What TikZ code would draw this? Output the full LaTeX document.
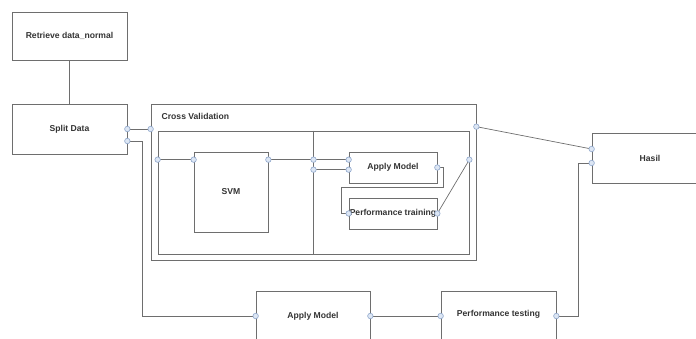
\documentclass[tikz,border=0pt]{standalone}
\usepackage{fontspec}
\setmainfont{Liberation Sans}
\usepackage{xcolor}
\usetikzlibrary{calc}
\definecolor{lineGray}{HTML}{6E6E6E}
\definecolor{portFill}{HTML}{DCE6F4}
\definecolor{portEdge}{HTML}{8EA6CB}

\begin{document}
\begin{tikzpicture}[
  x=1pt, y=-1pt,
  font=\fontsize{8.6}{10}\selectfont\bfseries,
  line width=0.7pt, draw=lineGray,
  blk/.style={draw=lineGray, rectangle, inner sep=0pt, align=center, text=black!80},
  wire/.style={draw=lineGray, line width=0.7pt},
  port/.style={circle, draw=portEdge, fill=portFill, line width=0.6pt, minimum size=5.5pt, inner sep=0pt}
]
\useasboundingbox (0,0) rectangle (696,338);

% Outer flow
\node[blk, minimum width=115, minimum height=48] (retr) at (69.5,36) {Retrieve data\_normal};
\node[blk, minimum width=115, minimum height=50] (split) at (69.5,129) {Split Data};
\node[blk, minimum width=116, minimum height=50] (hasil) at (650,158) {Hasil};
\node[blk, minimum width=114, minimum height=50] (applyb) at (313,316) {Apply Model};
\node[blk, minimum width=115, minimum height=50] (perfts) at (498.5,316) {};
\node[text=black!80] (perftstxt) at (498.5,314) {Performance testing};

% Cross validation
\node[blk, minimum width=325, minimum height=156] (cv) at (313.5,182) {};
\node[anchor=west, text=black!80] (cvtitle) at (158,116) {Cross Validation};
\node[blk, minimum width=311, minimum height=123] (cvin) at (313.5,192.5) {};
\draw[wire] (cvin.north) -- (cvin.south);
\node[blk, minimum width=74, minimum height=80] (svm) at (231,192) {SVM};
\node[blk, minimum width=88, minimum height=31] (apply) at (393,167.5) {Apply Model};
\node[blk, minimum width=88, minimum height=31] (perftr) at (393,213.5) {};
\node[text=black!80, inner sep=0pt] (perftrtxt) at (393,213.5) {Performance training};

% Ports
\coordinate (p1) at (split.east);
\coordinate (p2) at ($(split.east)+(0,12)$);
\coordinate (cvL) at (cv.west |- p1);
\coordinate (cvR) at ($(cv.north east)+(0,23)$);
\coordinate (svmL) at ($(svm.north west)+(0,8)$);
\coordinate (svmR) at ($(svm.north east)+(0,8)$);
\coordinate (cvinL) at (cvin.west |- svmL);
\coordinate (cvinR) at (cvin.east |- svmL);
\coordinate (divA) at (cvin.north |- svmL);
\coordinate (divB) at ($(divA)+(0,10)$);
\coordinate (apL1) at (apply.west |- divA);
\coordinate (apL2) at (apply.west |- divB);
\coordinate (apR) at (apply.east);
\coordinate (ptL) at (perftr.west);
\coordinate (ptR) at (perftr.east);
\coordinate (hasilA) at ($(hasil.west)+(0,-9)$);
\coordinate (hasilB) at ($(hasil.west)+(0,5)$);
\coordinate (abL) at (applyb.west);
\coordinate (abR) at (applyb.east);
\coordinate (ptsL) at (perfts.west);
\coordinate (ptsR) at (perfts.east);

% Connectors
\draw[wire] (retr.south) -- (split.north);
\draw[wire] (p1) -- (cvL);
\draw[wire] (p2) -- ++(15,0) |- (abL);
\draw[wire] (cvinL) -- (svmL);
\draw[wire] (svmR) -- (divA);
\draw[wire] (divA) -- (apL1);
\draw[wire] (divB) -- (apL2);
\draw[wire] (apR) -| ($(apply.south east)+(6,4)$) -| ($(perftr.west)+(-7,0)$) -- (ptL);
\draw[wire] (ptR) -- (cvinR);
\draw[wire] (cvR) -- (hasilA);
\draw[wire] (hasilB) -- ++(-13,0) |- (ptsR);
\draw[wire] (abR) -- (ptsL);

\foreach \p in {p1,p2,cvL,cvR,svmL,svmR,cvinL,cvinR,divA,divB,apL1,apL2,apR,ptL,ptR,hasilA,hasilB,abL,abR,ptsL,ptsR}
  \node[port] (port-\p) at (\p) {};
\end{tikzpicture}
\end{document}
